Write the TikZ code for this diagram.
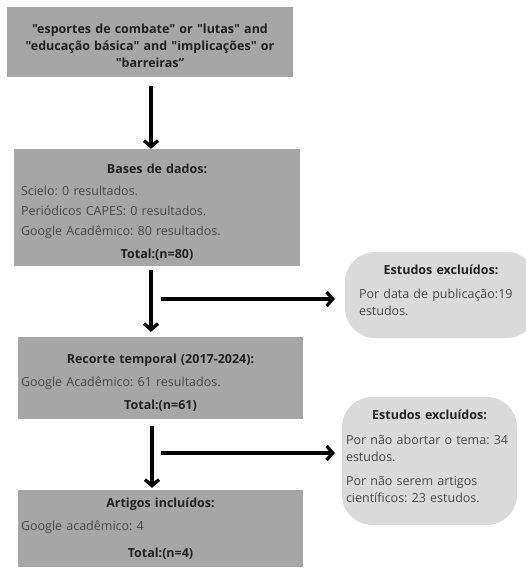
\documentclass[tikz,border=0pt]{standalone}
\usepackage{fontspec}
\setmainfont{Open Sans}[Ligatures=TeXOff]
\usepackage{xcolor}
\usepackage{tikz}
\usetikzlibrary{arrows.meta}
\definecolor{boxcolor}{RGB}{166,166,166}
\definecolor{excludecolor}{RGB}{218,218,218}
\definecolor{headcolor}{RGB}{34,34,34}
\definecolor{bodycolor}{RGB}{72,72,72}
\frenchspacing
\newcommand{\boxtitle}[1]{\makebox[\hsize]{\color{headcolor}\bfseries #1}}
\tikzset{
    graybox/.style={fill=boxcolor, minimum width=286pt, inner xsep=3pt, align=left,
        text=bodycolor, font=\fontsize{12.5}{20}\selectfont},
    outbox/.style={fill=excludecolor, rounded corners=30pt, inner xsep=3pt, align=left,
        text=bodycolor, font=\fontsize{12.5}{17}\selectfont},
    arr/.style={line width=3.3pt, -{Straight Barb[length=6pt,width=14pt]}}
}

\begin{document}
\begin{tikzpicture}[x=1pt,y=-1pt]
    \useasboundingbox (0,0) rectangle (525,573);
    % Main flow
    \node[graybox, text width=280pt, minimum height=70pt, text height=17.5pt, align=center, text=headcolor,
        font=\bfseries\fontsize{12.5}{17}\selectfont] (query) at (150,42)
        {"esportes de combate" or "lutas" and\\"educação básica" and "implicações" or\\"barreiras”};
    \node[graybox, text width=272pt, minimum height=117pt, text height=19.5pt] (bases) at (157,207.5)
        {\boxtitle{Bases de dados:}\\[2pt]
         Scielo: 0 resultados.\\
         Periódicos CAPES: 0 resultados.\\
         Google Acadêmico: 80 resultados.\\[3pt]
         \boxtitle{Total:(n=80)}};
    \node[graybox, text width=279pt, minimum width=285pt, minimum height=82pt, text height=18.5pt] (recorte) at (160.5,378)
        {\boxtitle{Recorte temporal (2017-2024):}\\[3pt]
         Google Acadêmico: 61 resultados.\\[3pt]
         \boxtitle{Total:(n=61)}};
    \node[graybox, text width=279pt, minimum width=285pt, minimum height=77pt] (artigos) at (160.5,528.5)
        {\boxtitle{Artigos incluídos:}\\[3pt]
         Google acadêmico: 4\\[7pt]
         \boxtitle{Total:(n=4)}};

    % Excluded studies
    \node[outbox, text width=164pt, minimum width=192pt, minimum height=86pt, text height=0pt] (excl1) at (441,295)
        {\boxtitle{Estudos excluídos:}\\[7pt]
         Por data de publicação:19\\
         estudos.};
    \node[outbox, text width=167pt, minimum width=175pt, minimum height=128pt, text height=-4.5pt] (excl2) at (429.5,461)
        {\boxtitle{Estudos excluídos:}\\[8pt]
         Por não abortar o tema: 34\\
         estudos.\\[7pt]
         Por não serem artigos\\
         científicos: 23 estudos.};

    % Arrows
    \coordinate (fork1) at (161,299);
    \coordinate (fork2) at (161,453);
    \draw[arr] ([xshift=1pt,yshift=-9pt]query.south) -- ([xshift=1pt]query.south |- bases.north);
    \draw[arr, shorten >=5pt] ([xshift=-6pt,yshift=-4pt]bases.south) -- ([xshift=-6pt]bases.south |- recorte.north);
    \draw[arr, shorten >=2pt] ([xshift=-8.5pt,yshift=-7pt]recorte.south) -- ([xshift=-8.5pt]recorte.south |- artigos.north);
    \draw[arr, shorten >=10pt] (fork1) -- (fork1 -| excl1.west);
    \draw[arr, shorten >=7pt] (fork2) -- (fork2 -| excl2.west);
\end{tikzpicture}
\end{document}
